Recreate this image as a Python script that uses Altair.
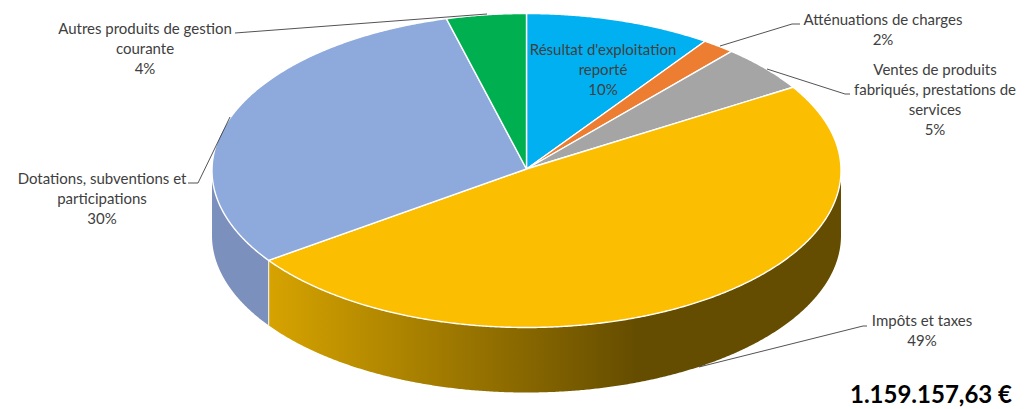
import numpy as np
import pandas as pd
import altair as alt

categories = ["Résultat d'exploitation reporté", "Atténuations de charges",
              "Ventes de produits fabriqués, prestations de services",
              "Impôts et taxes", "Dotations, subventions et participations",
              "Autres produits de gestion courante"]
shares = [9.6, 1.7, 4.8, 49.2, 30.6, 4.1]
colors = ["#00B0F0", "#ED7D31", "#A5A5A5", "#FBBE00", "#8EA9DB", "#00B050"]

label_lines = [
    ["Résultat d'exploitation", "reporté", "10%"],
    ["Atténuations de charges", "2%"],
    ["Ventes de produits", "fabriqués, prestations de", "services", "5%"],
    ["Impôts et taxes", "49%"],
    ["Dotations, subventions et", "participations", "30%"],
    ["Autres produits de gestion", "courante", "4%"],
]
label_anchor = [(603, 49.5), (883, 19.5), (935, 69.5), (922, 320.5), (102, 178.5), (145, 28.5)]
leaders = [
    None,
    [(720, 46), (792, 24), (800, 24)],
    [(767, 69), (845, 94), (850, 94)],
    [(699, 367), (863, 326), (867, 326)],
    [(230, 117), (198, 183), (188, 183)],
    [(487, 14), (235, 33)],
]
total_text = "1.159.157,63 €"

CX, CY, RX, RY, DEPTH = 526.5, 170.5, 314.5, 157.0, 65.0
W, H = 1010, 399
xs = alt.Scale(domain=[8, 8 + W], range=[0, W], nice=False, zero=False)
ys = alt.Scale(domain=[8, 8 + H], range=[0, H], nice=False, zero=False)
X = lambda f: alt.X(f, type="quantitative", scale=xs, axis=None)
Y = lambda f: alt.Y(f, type="quantitative", scale=ys, axis=None)


def rim(t0, t1):
    n = max(2, int(abs(t1 - t0) * 3))
    t = np.radians(np.linspace(t0, t1, n))
    return CX + RX * np.sin(t), CY - RY * np.cos(t)


edges = np.cumsum([0] + shares) / sum(shares) * 360.0
layers = []

# front wall of the yellow slice: from the right-most rim point to the slice end
yellow_end = edges[4]
wx, wy = rim(90, yellow_end)
wall = pd.DataFrame({"x": wx, "y": wy, "y2": wy + DEPTH})
stop = (640 - wx.min()) / (wx.max() - wx.min())
layers.append(
    alt.Chart(wall).mark_area(
        color=alt.LinearGradient(
            gradient="linear", x1=0, x2=1, y1=0, y2=0,
            stops=[alt.GradientStop(color="#D6A300", offset=0),
                   alt.GradientStop(color="#644C00", offset=float(stop)),
                   alt.GradientStop(color="#644C00", offset=1)])
    ).encode(x=X("x"), y=Y("y"), y2="y2")
)
bx, by = rim(yellow_end, 270)
wall2 = pd.DataFrame({"x": bx, "y": by, "y2": by + DEPTH})
layers.append(
    alt.Chart(wall2).mark_area(color="#7B90BC").encode(x=X("x"), y=Y("y"), y2="y2")
)
seam = pd.DataFrame({"x": [bx[0]], "y": [by[0]], "y2": [by[0] + DEPTH]})
layers.append(
    alt.Chart(seam).mark_rule(color="#E8ECF4", strokeWidth=1.2).encode(x=X("x"), y=Y("y"), y2="y2")
)

# top surface
for i, cat in enumerate(categories):
    rx_, ry_ = rim(edges[i], edges[i + 1])
    px = np.concatenate([[CX], rx_, [CX]])
    py = np.concatenate([[CY - 1.5], ry_, [CY - 1.5]])
    d = pd.DataFrame({"x": px, "y": py, "o": np.arange(len(px)), "category": cat})
    layers.append(
        alt.Chart(d).mark_line(filled=True, fill=colors[i], stroke="white",
                               strokeWidth=1.4, strokeJoin="round")
        .encode(x=X("x"), y=Y("y"), order=alt.Order("o:Q"))
    )

# leader lines
for i, pts in enumerate(leaders):
    if pts is None:
        continue
    d = pd.DataFrame({"x": [p[0] for p in pts], "y": [p[1] for p in pts], "o": range(len(pts))})
    layers.append(
        alt.Chart(d).mark_line(color="#404040", strokeWidth=0.9)
        .encode(x=X("x"), y=Y("y"), order=alt.Order("o:Q"))
    )

# labels
rows = []
for lines, (ax, ay) in zip(label_lines, label_anchor):
    for k, s in enumerate(lines):
        rows.append({"x": ax, "y": ay + 20 * k, "t": s})
layers.append(
    alt.Chart(pd.DataFrame(rows)).mark_text(
        font="Lato", fontSize=15, color="#404040", align="center", baseline="middle"
    ).encode(x=X("x"), y=Y("y"), text="t:N")
)
layers.append(
    alt.Chart(pd.DataFrame({"x": [931], "y": [396], "t": [total_text]})).mark_text(
        font="Lato", fontSize=24, fontWeight="bold", color="#000000",
        align="center", baseline="middle"
    ).encode(x=X("x"), y=Y("y"), text="t:N")
)

chart = alt.layer(*layers).properties(
    width=W, height=H, padding=0, autosize="none", background="white"
).configure_view(stroke=None)

chart.save("out.html", embed_options={"renderer": "svg", "actions": False})
